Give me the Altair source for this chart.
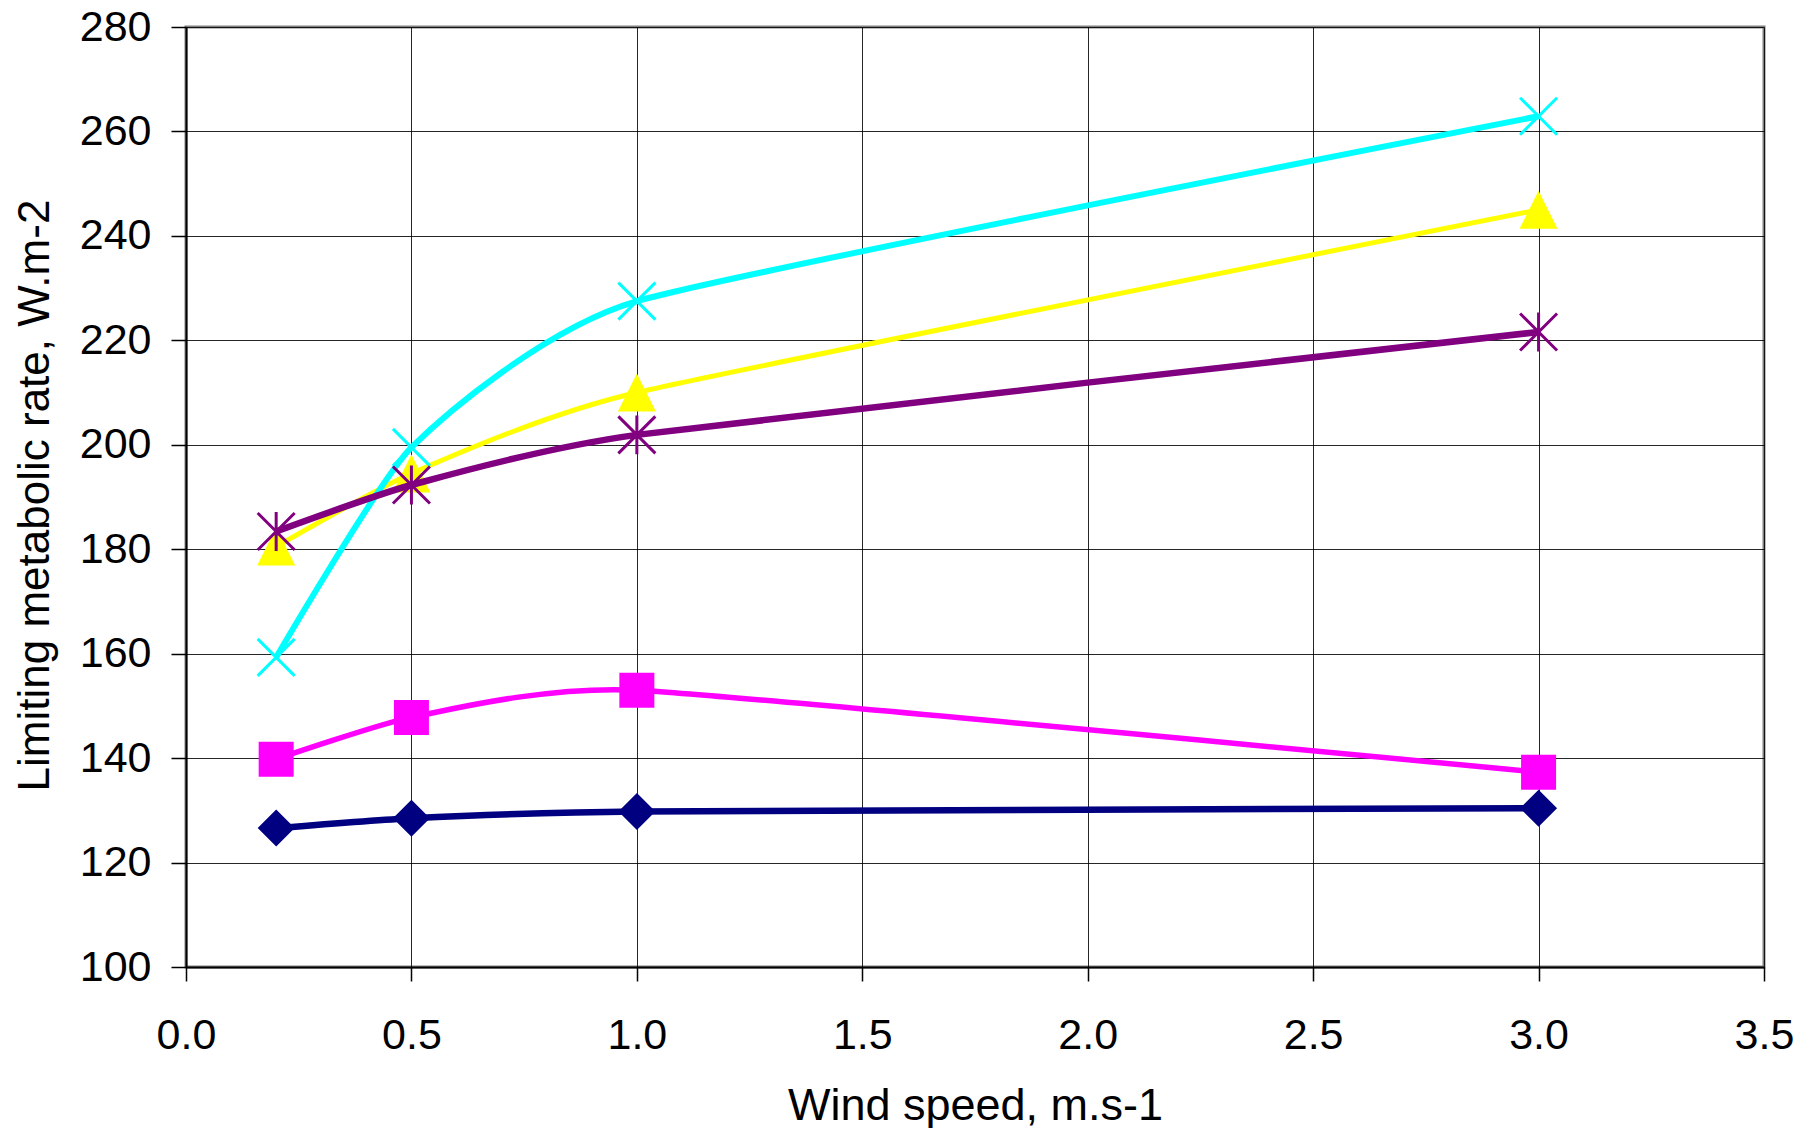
import altair as alt
import pandas as pd

# ---- data ----
wind = [0.2, 0.5, 1.0, 3.0]
navy_vals = [126.6, 128.5, 129.8, 130.4]
magenta_vals = [139.8, 147.8, 153.0, 137.3]
yellow_vals = [180.5, 194.5, 210.0, 245.0]
cyan_vals = [159.3, 199.5, 227.5, 262.9]
purple_vals = [183.4, 192.3, 201.9, 221.6]
series_names = ["Series1", "Series2", "Series3", "Series4", "Series5"]
x_ticks = [0.0, 0.5, 1.0, 1.5, 2.0, 2.5, 3.0, 3.5]
y_ticks = [100, 120, 140, 160, 180, 200, 220, 240, 260, 280]

# ---- styles ----
colors = ["#000080", "#FF00FF", "#FFFF00", "#00FFFF", "#800080"]
line_widths = [6.5, 5.5, 5, 6, 6.5]
shapes = ["diamond", "square", "M0,-1L1,1L-1,1Z",
          "M-1,-1L1,1M-1,1L1,-1",
          "M-1,-1L1,1M-1,1L1,-1M0,-1.05L0,1.05"]
sizes = [1369, 1225, 1444, 1369, 1369]
filled = [True, True, True, False, False]

FONT = "Liberation Sans"

x_enc = alt.X("x:Q",
              scale=alt.Scale(domain=[0, 3.5], nice=False, zero=False),
              axis=alt.Axis(values=x_ticks, format=".1f", title="Wind speed, m.s-1",
                            tickSize=14, labelPadding=33, labelFlush=False,
                            titleX=789, titleY=152, titleBaseline="alphabetic",
                            titleAlign="center"))
y_enc = alt.Y("y:Q",
              scale=alt.Scale(domain=[100, 280], nice=False, zero=False),
              axis=alt.Axis(values=y_ticks, format="d", title="Limiting metabolic rate, W.m-2",
                            tickSize=15, labelPadding=20, labelFlush=False,
                            titleX=-138, titleY=468, titleAngle=270, titleFontSize=44,
                            titleBaseline="alphabetic", titleAlign="center"))

series_data = [navy_vals, magenta_vals, yellow_vals, cyan_vals, purple_vals]
layers = []
for i, vals in enumerate(series_data):
    df = pd.DataFrame({"x": wind, "y": vals, "series": series_names[i]})
    base = alt.Chart(df)
    line = base.mark_line(color=colors[i], strokeWidth=line_widths[i],
                          interpolate="cardinal", tension=0.5).encode(x=x_enc, y=y_enc)
    if filled[i]:
        pts = base.mark_point(shape=shapes[i], size=sizes[i], filled=True,
                              fill=colors[i], opacity=1).encode(x=x_enc, y=y_enc)
    else:
        pts = base.mark_point(shape=shapes[i], size=sizes[i], filled=False,
                              stroke=colors[i], strokeWidth=3, opacity=1).encode(x=x_enc, y=y_enc)
    layers.append(line)
    layers.append(pts)

chart = alt.layer(*layers).properties(
    width=1578, height=940,
    autosize=alt.AutoSizeParams(type="none"),
    padding={"left": 178, "top": 19, "right": 40, "bottom": 161},
    background="white",
).configure_view(
    stroke="#808080", strokeWidth=3
).configure_axis(
    labelFont=FONT, titleFont=FONT, labelFontSize=43, titleFontSize=45,
    labelColor="#000000", titleColor="#000000", titleFontWeight="normal",
    gridColor="#000000", gridWidth=1, gridOpacity=0.85,
    domainColor="#000000", domainWidth=2,
    tickColor="#000000", tickWidth=1.5,
)

chart.save("out.html", embed_options={"renderer": "svg", "actions": False})
